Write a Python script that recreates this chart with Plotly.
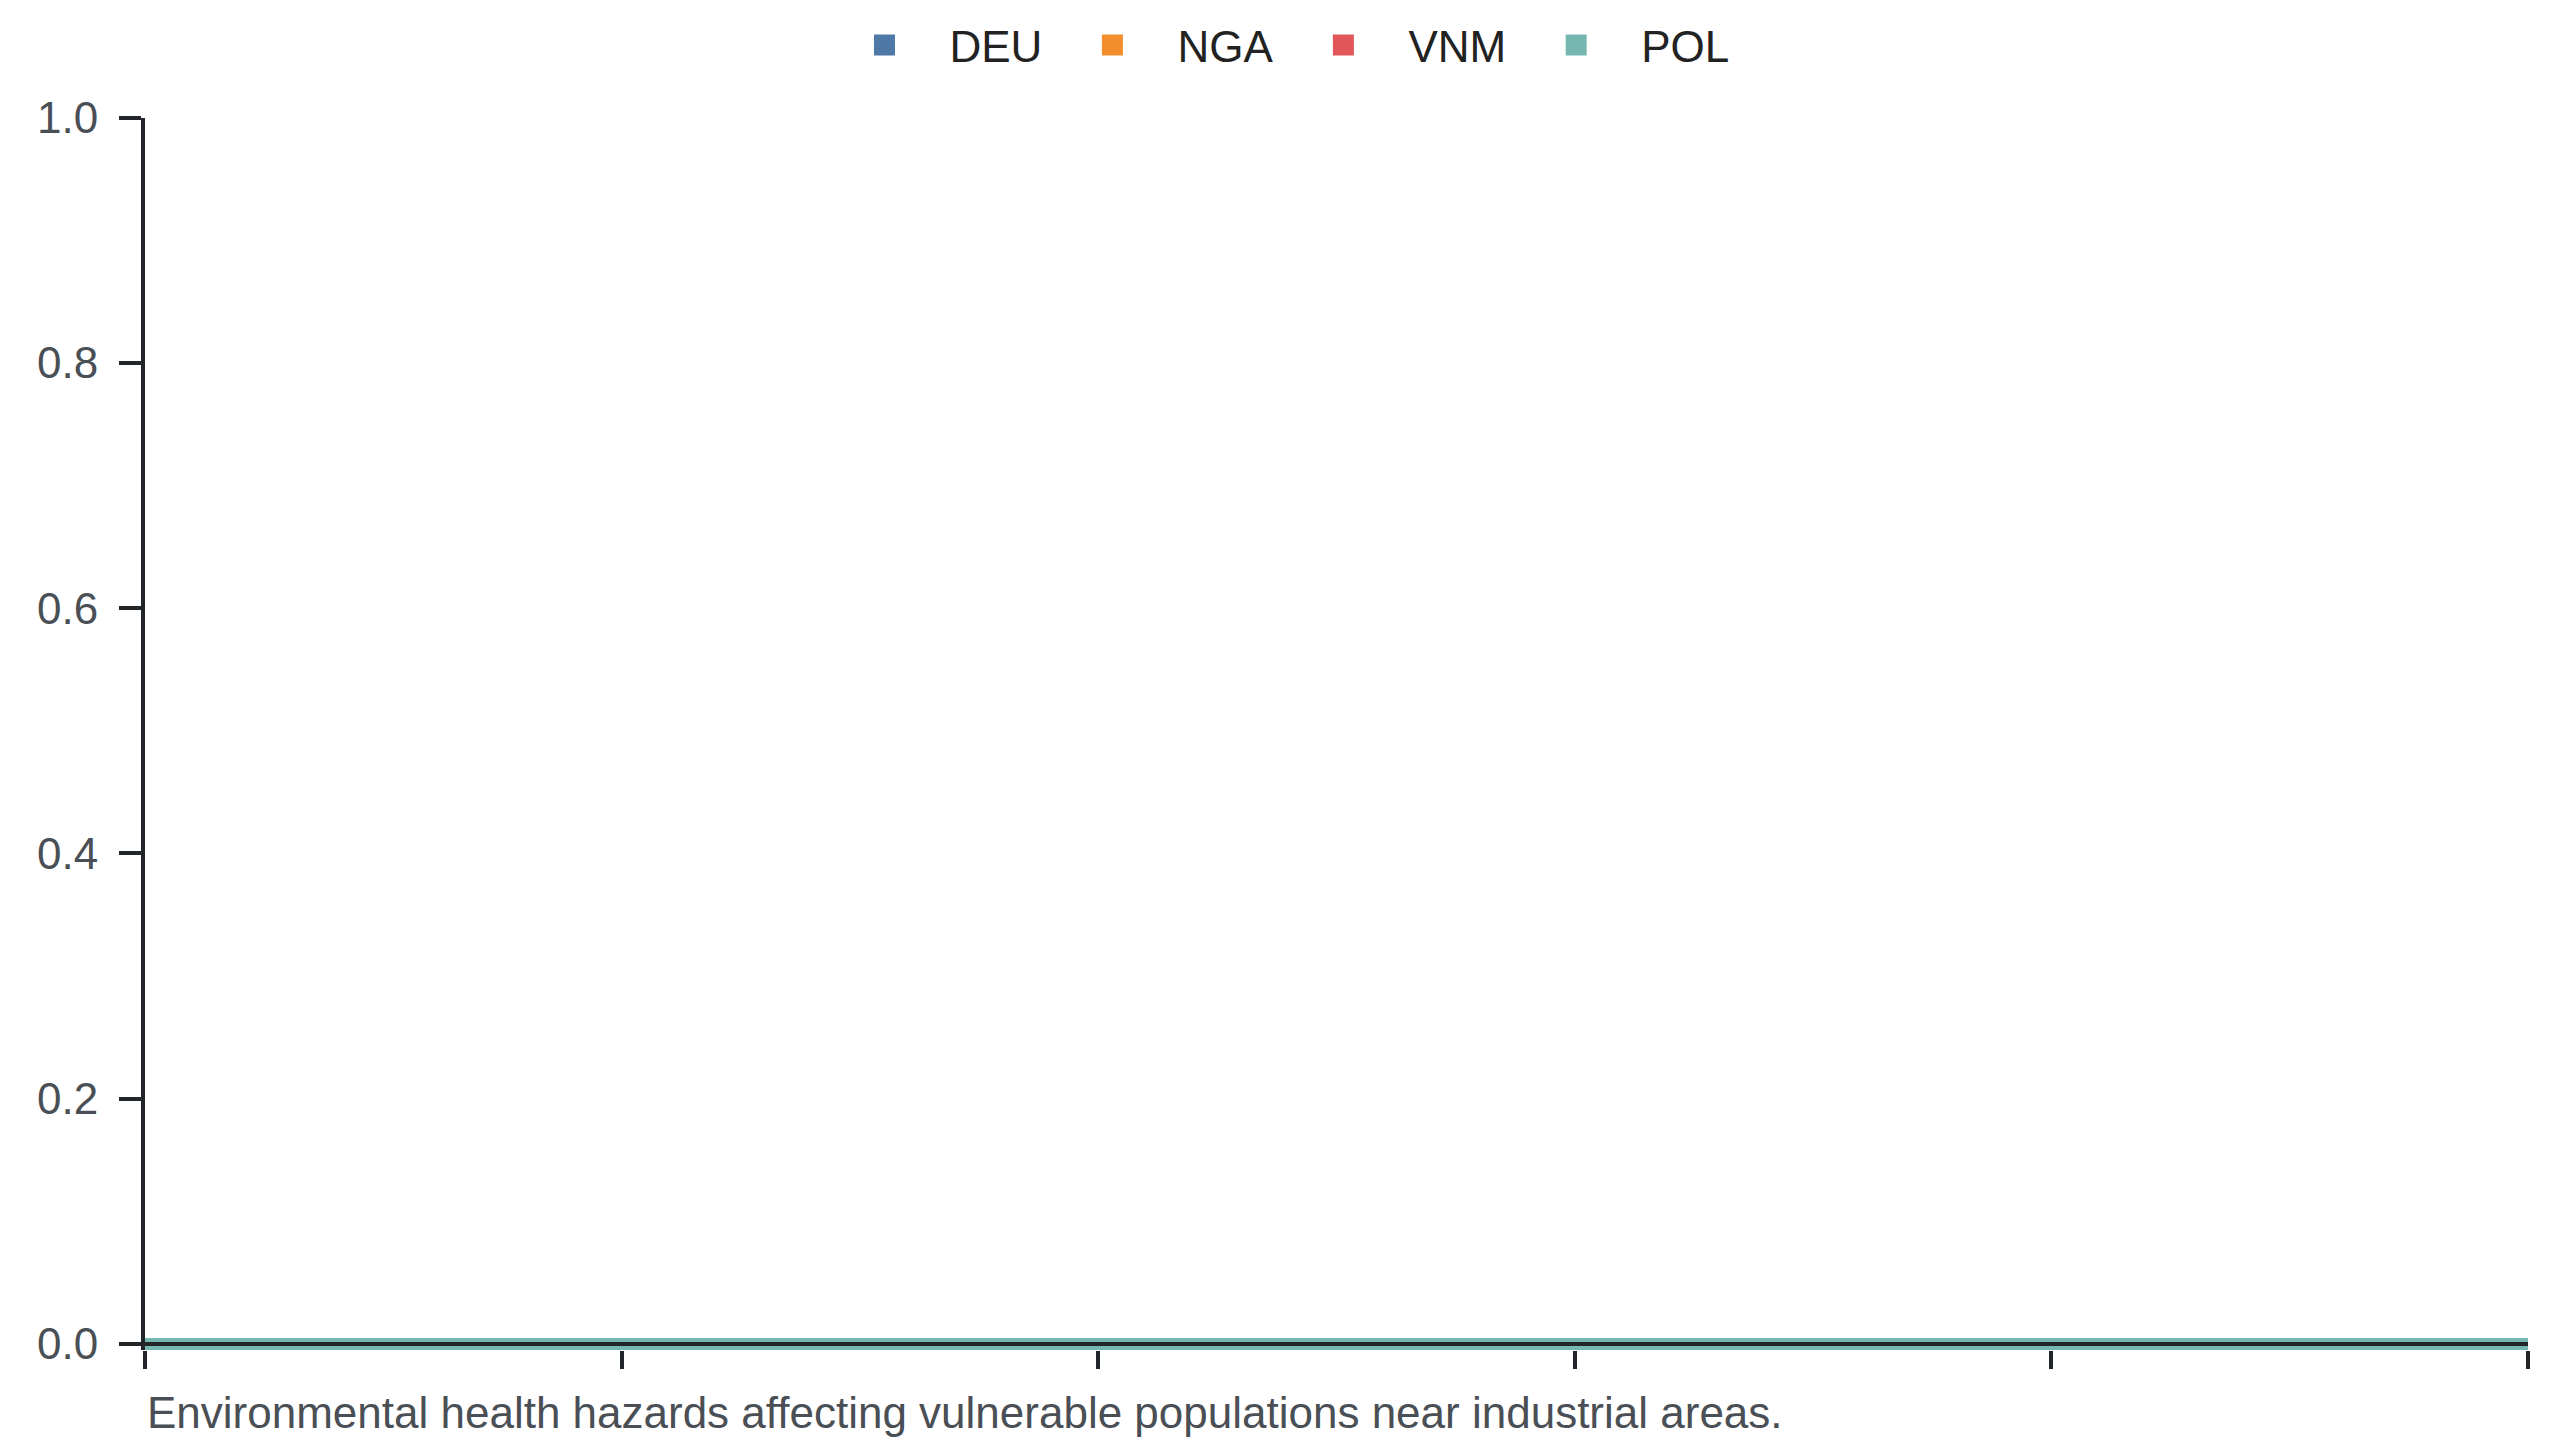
import plotly.graph_objects as go

# ---- data ----
x_points = [0, 1, 2, 3, 4, 5]
series_names = ["DEU", "NGA", "VNM", "POL"]
deu_values = [0, 0, 0, 0, 0, 0]
nga_values = [0, 0, 0, 0, 0, 0]
vnm_values = [0, 0, 0, 0, 0, 0]
pol_values = [0, 0, 0, 0, 0, 0]
y_ticks = [0.0, 0.2, 0.4, 0.6, 0.8, 1.0]
caption = "Environmental health hazards affecting vulnerable populations near industrial areas."

colors = ["#4e79a7", "#f28e2c", "#e15759", "#76b7b2"]
values = [deu_values, nga_values, vnm_values, pol_values]

FONT = "Liberation Sans, Arial, sans-serif"
AXIS = "#22252a"

fig = go.Figure()
for name, vals, col in zip(series_names, values, colors):
    fig.add_trace(go.Scatter(
        x=x_points, y=vals, name=name, mode="lines",
        stackgroup="one", line=dict(color=col, width=12),
        fillcolor=col, showlegend=False, hoverinfo="skip",
    ))
# legend entries
for name, col in zip(series_names, colors):
    fig.add_trace(go.Scatter(
        x=[None], y=[None], name=name, mode="markers",
        marker=dict(symbol="square", size=16, color=col,
                    line=dict(color=col, width=5)),
        showlegend=True,
    ))

fig.update_layout(
    width=2560, height=1440,
    paper_bgcolor="white", plot_bgcolor="white",
    margin=dict(l=137, r=40, t=100, b=98),
    font=dict(family=FONT, size=44, color="#4a4f55"),
    showlegend=True,
    legend=dict(orientation="h", xref="container", x=0.4957, xanchor="center",
                yref="container", y=1 - 37.5 / 1440, yanchor="middle",
                font=dict(size=44, color="#222222"),
                itemwidth=120, traceorder="normal"),
    annotations=[dict(text=caption, xref="paper", yref="paper", x=0, y=0,
                      xanchor="left", yanchor="middle", yshift=-62, showarrow=False,
                      font=dict(size=44, color="#4a4f55", family=FONT))],
)
fig.update_xaxes(range=[0, 5], tickvals=x_points, showticklabels=False,
                 showline=False,
                 ticks="outside", ticklen=18, tickwidth=4, tickcolor=AXIS,
                 showgrid=False, zeroline=False)
fig.update_yaxes(range=[-6 / 1236, 1], tickvals=y_ticks, tickformat=".1f",
                 showline=True, linecolor=AXIS, linewidth=4,
                 ticks="outside", ticklen=22, tickwidth=4, tickcolor=AXIS,
                 showgrid=False, zeroline=True, zerolinecolor=AXIS, zerolinewidth=4,
                 ticklabelstandoff=12)
try:
    fig.update_yaxes(zerolinelayer="above traces")
except Exception:
    pass

fig.write_html("out.html")
